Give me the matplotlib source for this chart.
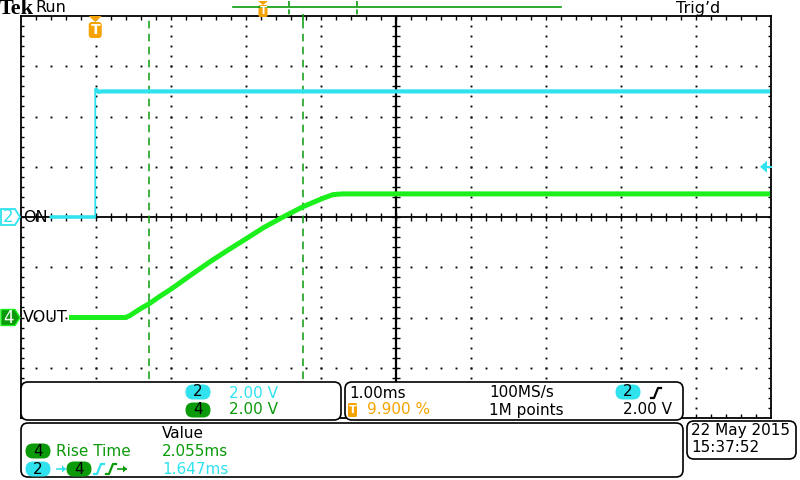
import matplotlib
matplotlib.use('Agg')
import matplotlib.pyplot as plt
from matplotlib.patches import FancyBboxPatch, Polygon
import numpy as np

# scope traces: time in ms, level in volts
t_on = [-0.60, 0.00, 0.00, 0.04, 0.10, 9.01]
v_on = [0.00, 0.00, 5.10, 4.98, 5.00, 5.00]

t_vout = [-0.35, 0.40, 0.46, 0.53, 0.62, 0.72, 0.86, 1.02, 1.27, 1.53, 1.80, 2.02,
          2.24, 2.51, 2.77, 2.92, 3.04, 3.17, 3.30, 9.01]
v_vout = [0.00, 0.00, 0.07, 0.21, 0.38, 0.55, 0.84, 1.15, 1.68, 2.22, 2.74, 3.15,
          3.57, 4.01, 4.41, 4.60, 4.75, 4.89, 4.92, 4.92]

cursors = [0.717, 2.772]     # rise time gates, ms
trig_level = 2.00            # V, on ch2
volts_div = [2.00, 2.00]     # ch2, ch4
offsets = [0, -2]            # ground position in divisions
t_left = -0.99               # 9.9 % pretrigger at 1 ms/div

CYAN = '#2fe2ee'
GREEN = '#1cf01c'
DKGREEN = '#0a9a0a'
ORANGE = '#f5a300'
FS = 11

fig = plt.figure(figsize=(8, 4.8), dpi=100)

# graticule / traces
ax = fig.add_axes([21/800, 62/480, 750/800, 402/480])
ax.set_xlim(t_left, t_left + 10)
ax.set_ylim(-4, 4)
ax.set_xticks([])
ax.set_yticks([])
for s in ax.spines.values():
    s.set_linewidth(1.3)
    s.set_color('black')

fine_x = t_left + 0.2 * np.arange(1, 50)
fine_y = -4 + 0.2 * np.arange(1, 40)
for k in range(1, 10):
    if k == 5:
        continue
    xg = t_left + k
    ax.plot(np.full(len(fine_y), xg), fine_y, ls='none', marker='s', ms=1.35, mew=0, color='black')
for yg in [-3, -2, -1, 1, 2, 3]:
    ax.plot(fine_x, np.full(len(fine_x), yg), ls='none', marker='s', ms=1.35, mew=0, color='black')

# center crosshair with ticks
xc = t_left + 5
ax.axhline(0, color='black', lw=1.3)
ax.axvline(xc, color='black', lw=1.6)
ax.vlines(fine_x, -0.08, 0.08, color='black', lw=1)
ax.hlines(fine_y, xc - 0.055, xc + 0.055, color='black', lw=1)

# edge ticks
ax.vlines(fine_x, 4 - 0.07, 4, color='black', lw=1)
ax.vlines(fine_x, -4, -4 + 0.07, color='black', lw=1)
ax.hlines(fine_y, t_left, t_left + 0.04, color='black', lw=1)
ax.hlines(fine_y, t_left + 10 - 0.04, t_left + 10, color='black', lw=1)

# cursors
for c in cursors:
    ax.axvline(c, color=DKGREEN, lw=1.1, ls=(0, (5, 3.5)))

y_on = np.array(v_on) / volts_div[0] + offsets[0]
y_vout = np.array(v_vout) / volts_div[1] + offsets[1]
ax.plot(t_vout, y_vout, color=GREEN, lw=3.6, solid_capstyle='butt', solid_joinstyle='round')
ax.plot(t_on, y_on, color=CYAN, lw=1.3)
ax.plot(t_on[:2], y_on[:2], color=CYAN, lw=2.6, solid_capstyle='butt')
ax.plot(t_on[2:], y_on[2:], color=CYAN, lw=3.0, solid_capstyle='butt')

# overlay in pixel units
ov = fig.add_axes([0, 0, 1, 1])
ov.set_xlim(0, 800)
ov.set_ylim(480, 0)
ov.axis('off')
ov.patch.set_alpha(0)
ov.set_zorder(5)


def to_px(t, y):
    d = ax.transData.transform((t, y))
    return ov.transData.inverted().transform(d)


def txt(x, y, s, color='black', ha='left', size=FS, **kw):
    ov.text(x, y, s, color=color, ha=ha, va='center', fontsize=size, family='DejaVu Sans', **kw)


def panel(x0, y0, x1, y1):
    ov.add_patch(FancyBboxPatch((x0, y0), x1 - x0, y1 - y0,
                                boxstyle='round,pad=0,rounding_size=7',
                                fc='white', ec='black', lw=1.2, zorder=2))


def badge(cx, cy, label, fc):
    ov.add_patch(FancyBboxPatch((cx - 12.5, cy - 7.5), 25, 15,
                                boxstyle='round,pad=0,rounding_size=7.5',
                                fc=fc, ec='none', zorder=3))
    ov.text(cx, cy, label, ha='center', va='center', fontsize=FS, color='black', zorder=4)


def edge(x, y, color):
    ov.plot([x, x + 3, x + 7, x + 10], [y + 5, y + 5, y - 5, y - 5], color=color, lw=1.6, zorder=4)


def arrow(x, y, color):
    ov.plot([x, x + 8], [y, y], color=color, lw=1.2, zorder=4)
    ov.add_patch(Polygon([[x + 9, y], [x + 5, y - 3.5], [x + 5, y + 3.5]], closed=True, fc=color, ec='none', zorder=4))


# header
ov.text(-1, 9, 'Tek', fontsize=16, fontweight='bold', family='Liberation Serif', va='center', ha='left')
txt(35, 8, 'Run', size=11.5)
txt(676, 8, 'Trig\u2019d', size=11.5)
ov.plot([233, 561], [7, 7], color=DKGREEN, lw=1.2)
for xm in [288.5, 356.5]:
    ov.plot([xm, xm], [1, 15], color=DKGREEN, lw=1.2, ls=(0, (3, 2)))
ov.plot([303, 303], [15, 20], color=DKGREEN, lw=1.2)
ov.add_patch(Polygon([[258, 1], [268, 1], [263, 5]], closed=True, fc=ORANGE, ec='none'))
ov.add_patch(FancyBboxPatch((258.5, 5), 9, 12, boxstyle='round,pad=0,rounding_size=1.5', fc=ORANGE, ec='none'))
ov.text(263, 11, 'T', ha='center', va='center', fontsize=7.5, color='white', fontweight='bold')

# trigger position marker
tx, ty = to_px(0, 4)
ov.add_patch(Polygon([[tx - 6.5, ty], [tx + 6.5, ty], [tx, ty + 6]], closed=True, fc=ORANGE, ec='none', zorder=3))
ov.add_patch(FancyBboxPatch((tx - 6.5, ty + 6), 13, 16, boxstyle='round,pad=0,rounding_size=3',
                            fc=ORANGE, ec='none', zorder=3))
ov.text(tx, ty + 14.5, 'T', ha='center', va='center', fontsize=10, color='white', fontweight='bold', zorder=4)

# trigger level arrow
lx, ly = to_px(t_left + 10, trig_level / volts_div[0] + offsets[0])
ov.add_patch(Polygon([[lx - 11, ly], [lx - 4, ly - 6], [lx - 4, ly + 6]], closed=True, fc=CYAN, ec='none', zorder=3))
ov.plot([lx - 5, lx], [ly, ly], color=CYAN, lw=1.5)

# channel ground markers
gx, gy = to_px(t_left, offsets[0])
ov.add_patch(Polygon([[1, gy - 8], [15, gy - 8], [20, gy], [15, gy + 8], [1, gy + 8]], closed=True,
                     fc='white', ec=CYAN, lw=1.3, zorder=3))
ov.text(8, gy + 0.5, '2', ha='center', va='center', fontsize=12, color=CYAN, zorder=4)
txt(23, gy, 'ON', size=11.5)
gx, gy = to_px(t_left, offsets[1])
ov.add_patch(Polygon([[1, gy - 8], [15, gy - 8], [20, gy], [15, gy + 8], [1, gy + 8]], closed=True,
                     fc=DKGREEN, ec=GREEN, lw=1.0, zorder=3))
ov.text(8, gy + 0.5, '4', ha='center', va='center', fontsize=12, color='white', zorder=4)
txt(23, gy, 'VOUT', size=11.5)

# readout panels
panel(21, 382, 341, 420)
badge(198, 392, '2', CYAN)
txt(229, 393, '%.2f V' % volts_div[0], color=CYAN)
badge(198, 410, '4', DKGREEN)
txt(229, 410, '%.2f V' % volts_div[1], color=DKGREEN)

panel(345, 382, 683, 420)
txt(349, 393, '1.00ms')
txt(489, 393, '100MS/s')
badge(628, 392, '2', CYAN)
edge(651, 393, 'black')
ov.add_patch(FancyBboxPatch((348, 403), 9, 14, boxstyle='round,pad=0,rounding_size=1.5', fc=ORANGE, ec='none', zorder=3))
ov.text(352.5, 410, 'T', ha='center', va='center', fontsize=8, color='white', fontweight='bold', zorder=4)
txt(367, 410, '9.900 %', color=ORANGE)
txt(489, 410, '1M points')
txt(672, 410, '%.2f V' % trig_level, ha='right')

panel(21, 423, 683, 477)
txt(162, 433, 'Value')
badge(38, 451, '4', DKGREEN)
txt(56, 451, 'Rise Time', color=DKGREEN)
txt(162, 451, '2.055ms', color=DKGREEN)
badge(38, 469, '2', CYAN)
arrow(57, 469, CYAN)
badge(79, 469, '4', DKGREEN)
edge(94, 469, CYAN)
edge(106, 469, DKGREEN)
arrow(118, 469, DKGREEN)
txt(162, 469, '1.647ms', color=CYAN)

panel(687, 421, 796, 459)
txt(691, 431, '22 May 2015')
txt(691, 448, '15:37:52')

fig.savefig('out.png', dpi=100)
